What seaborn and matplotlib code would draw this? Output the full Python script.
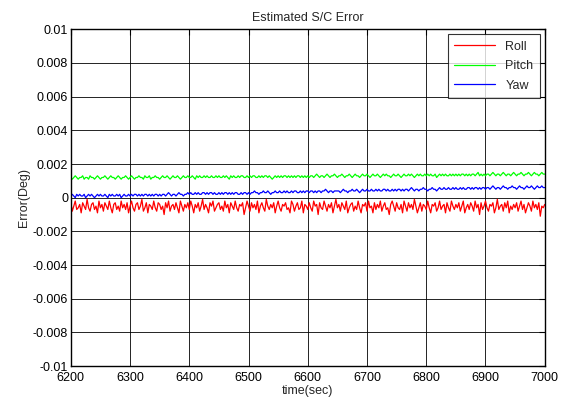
import numpy as np
import pandas as pd
import matplotlib
matplotlib.use("Agg")
import matplotlib.pyplot as plt
import seaborn as sns

roll = [-3, -8, -5, -2, -7, -6, -4, -9, -3, -5, -7, -1, -6, -8, -4, -3, -7, -5, -9, -2,
        -6, -4, -8, -3, -5, -7, -2, -6, -9, -4, -3, -7, -5, -8, -2, -6, -4, -7, -3, -9,
        -5, -2, -6, -8, -4, -3, -7, -5, -1, -8, -6, -3, -9, -4, -5, -7, -2, -6, -8, -3,
        -4, -7, -5, -10, -3, -6, -2, -8, -5, -4, -7, -3, -6, -9, -2, -5, -8, -4, -6, -3,
        -7, -2, -5, -9, -4, -6, -3, -8, -5, -1, -7, -4, -6, -9, -3, -5, -2, -8, -6, -4,
        -3, -7, -5, -8, -2, -6, -4, -9, -3, -5, -7, -2, -6, -8, -4, -5, -3, -10, -6, -2,
        -5, -8, -3, -6, -4, -7, -2, -9, -5, -3, -6, -8, -1, -5, -7, -4, -6, -3, -9, -5,
        -2, -6, -8, -4, -5, -3, -7, -6, -9, -2, -4, -8, -5, -3, -7, -6, -2, -9, -4, -5,
        -7, -3, -6, -8, -2, -5, -4, -10, -3, -6, -7, -2, -5, -8, -4, -6, -3, -9, -5, -1,
        -6, -4, -8, -3, -5, -7, -2, -9, -6, -4, -3, -8, -5, -7, -2, -6, -9, -4, -5, -3,
        -8, -2, -6, -5, -9, -3, -7, -4, -6, -2, -8, -5, -3, -7, -6, -10, -4, -2, -5, -8,
        -3, -6, -7, -4, -9, -2, -5, -8, -3, -6, -4, -7, -1, -5, -9, -6, -3, -8, -4, -5,
        -7, -2, -6, -9, -4, -5, -3, -8, -6, -2, -7, -5, -4, -9, -3, -6, -8, -2, -5, -7,
        -4, -6, -3, -8, -5, -2, -9, -6, -4, -7, -3, -5, -8, -2, -6, -4, -10, -3, -7, -5,
        -2, -6, -8, -4, -5, -3, -9, -6, -1, -7, -5, -4, -8, -3, -6, -2, -9, -5, -7, -4,
        -6, -3, -8, -5, -2, -7, -4, -9, -6, -3, -5, -8, -2, -6, -4, -7, -3, -11, -5, -6,
        -4]
pitch = [12, 11, 12, 13, 12, 11, 12, 12, 13, 11, 12, 12, 11, 13, 12, 12, 11, 12, 13, 12,
         11, 12, 12, 13, 12, 11, 12, 13, 12, 12, 11, 12, 13, 12, 11, 12, 12, 13, 12, 11,
         12, 13, 12, 11, 12, 12, 13, 12, 12, 11, 13, 12, 12, 13, 11, 12, 12, 13, 12, 12,
         11, 12, 13, 12, 12, 13, 12, 11, 12, 13, 12, 12, 13, 12, 11, 12, 13, 12, 12, 13,
         12, 12, 13, 12, 11, 13, 12, 13, 12, 12, 13, 12, 13, 12, 12, 13, 12, 12, 13, 12,
         13, 12, 12, 13, 12, 13, 12, 11, 13, 12, 13, 12, 12, 13, 12, 13, 13, 12, 12, 13,
         12, 13, 12, 13, 13, 12, 12, 13, 12, 13, 12, 13, 13, 12, 13, 12, 11, 12, 13, 12,
         13, 12, 13, 12, 13, 13, 12, 13, 12, 13, 12, 13, 12, 13, 13, 12, 13, 12, 13, 12,
         13, 12, 13, 13, 12, 13, 14, 13, 12, 13, 13, 12, 13, 14, 13, 12, 13, 13, 14, 13,
         12, 13, 13, 14, 13, 12, 13, 13, 14, 13, 12, 13, 14, 13, 13, 12, 13, 14, 13, 13,
         14, 13, 12, 13, 14, 13, 13, 14, 13, 12, 13, 14, 13, 14, 13, 13, 12, 13, 14, 13,
         13, 14, 13, 12, 13, 14, 13, 13, 14, 13, 14, 13, 12, 13, 14, 13, 14, 13, 13, 14,
         13, 14, 13, 14, 13, 13, 14, 12, 13, 14, 13, 14, 13, 14, 13, 13, 14, 13, 14, 13,
         14, 13, 14, 13, 14, 14, 13, 14, 13, 14, 13, 14, 14, 13, 14, 15, 13, 14, 13, 14,
         13, 14, 14, 13, 14, 15, 14, 13, 14, 14, 13, 14, 15, 14, 13, 14, 14, 13, 14, 15,
         14, 13, 14, 14, 15, 14, 13, 14, 14, 15, 14, 13, 14, 15, 14, 14, 13, 14, 15, 14,
         14]
yaw = [1, 2, 1, 0, 2, 1, 2, 1, 1, 2, 0, 1, 2, 1, 2, 1, 0, 1, 2, 1,
       2, 1, 1, 2, 1, 0, 2, 1, 2, 1, 1, 2, 1, 2, 0, 1, 2, 1, 1, 2,
       1, 2, 1, 2, 2, 1, 2, 1, 2, 1, 2, 2, 1, 2, 1, 2, 1, 2, 2, 1,
       2, 1, 2, 2, 1, 2, 3, 2, 1, 2, 2, 1, 2, 3, 2, 2, 1, 2, 2, 3,
       2, 3, 2, 2, 3, 2, 3, 2, 2, 3, 3, 2, 3, 2, 3, 3, 2, 3, 2, 2,
       3, 2, 3, 2, 3, 3, 2, 3, 2, 3, 2, 3, 3, 2, 2, 3, 2, 3, 3, 2,
       3, 2, 3, 3, 4, 3, 3, 2, 3, 3, 4, 3, 3, 4, 3, 2, 3, 3, 4, 3,
       3, 4, 3, 3, 4, 3, 4, 3, 3, 4, 3, 4, 4, 3, 3, 4, 3, 4, 3, 4,
       4, 3, 4, 4, 3, 4, 3, 4, 4, 3, 4, 4, 5, 4, 3, 4, 4, 3, 4, 4,
       4, 4, 3, 4, 5, 4, 4, 3, 4, 4, 5, 4, 4, 5, 4, 3, 4, 5, 4, 4,
       5, 4, 4, 5, 4, 4, 5, 4, 5, 4, 4, 5, 5, 4, 5, 4, 4, 5, 4, 5,
       4, 5, 5, 4, 5, 4, 5, 5, 4, 5, 6, 5, 4, 5, 5, 4, 5, 5, 6, 5,
       5, 4, 5, 5, 6, 5, 5, 4, 5, 6, 5, 5, 6, 5, 5, 6, 5, 5, 6, 5,
       6, 5, 5, 6, 5, 6, 5, 5, 6, 6, 5, 6, 5, 6, 6, 5, 6, 5, 6, 6,
       5, 6, 6, 5, 6, 7, 6, 5, 6, 6, 5, 6, 7, 6, 6, 5, 6, 6, 7, 6,
       6, 5, 6, 7, 6, 6, 5, 6, 7, 6, 6, 7, 6, 5, 6, 7, 6, 6, 7, 6,
       6]
series_names = ["Roll", "Pitch", "Yaw"]
series_colors = ["#ff0000", "#00ff00", "#0000ff"]
x_ticks = [6200, 6300, 6400, 6500, 6600, 6700, 6800, 6900, 7000]
y_ticks = [-0.01, -0.008, -0.006, -0.004, -0.002, 0, 0.002, 0.004, 0.006, 0.008, 0.01]

time = np.linspace(6200, 7000, len(roll))
frames = []
for name, vals in zip(series_names, [roll, pitch, yaw]):
    frames.append(pd.DataFrame({"time": time, "err": np.array(vals) * 1e-4, "axis": name}))
df = pd.concat(frames, ignore_index=True)

sns.set_style("white")
plt.rcParams["font.family"] = ["Liberation Sans", "DejaVu Sans"]
plt.rcParams["font.size"] = 9

fig = plt.figure(figsize=(5.71, 4.01), dpi=100)
ax = fig.add_axes([0.124, 0.087, 0.830, 0.840])
sns.lineplot(data=df, x="time", y="err", hue="axis", palette=series_colors,
             linewidth=0.9, ax=ax)

ax.set_xlim(6200, 7000)
ax.set_ylim(-0.01, 0.01)
ax.set_xticks(x_ticks)
ax.set_yticks(y_ticks)
ax.set_yticklabels([("%g" % v) for v in y_ticks])
ax.grid(True, color="black", linewidth=0.6)
ax.tick_params(direction="in", length=4, labelsize=9, colors="black",
               top=True, right=True)
ax.tick_params(axis="x", pad=4)
ax.tick_params(axis="y", pad=2)
for s in ax.spines.values():
    s.set_color("black")
    s.set_linewidth(1.0)
ax.set_title("Estimated S/C Error", fontsize=9, pad=6)
ax.set_xlabel("time(sec)", fontsize=9, labelpad=1)
ax.set_ylabel("Error(Deg)", fontsize=9, labelpad=2)

leg = ax.legend(loc="upper right", frameon=True, fancybox=False, edgecolor="black",
                fontsize=9, handlelength=3.3, borderaxespad=0.4, labelspacing=0.6,
                borderpad=0.5)
leg.get_frame().set_linewidth(0.8)

fig.savefig("out.png", dpi=100)
